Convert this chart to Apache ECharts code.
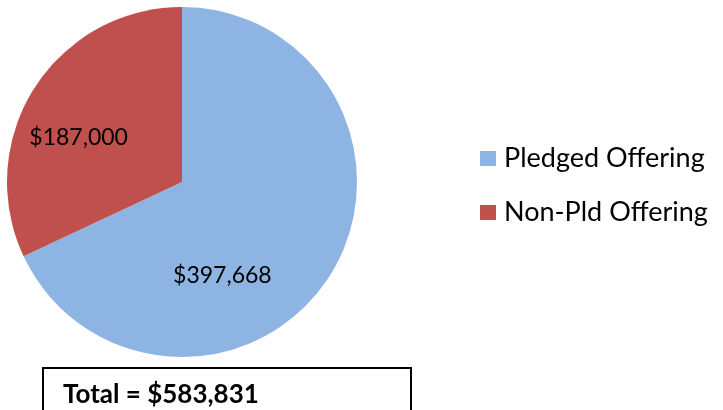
<!DOCTYPE html>
<html>
<head>
<meta charset="utf-8">
<script src="https://cdn.jsdelivr.net/npm/echarts@6/dist/echarts.min.js"></script>
<style>
html,body{margin:0;padding:0;background:#fff;}
#c{width:723px;height:410px;}
</style>
</head>
<body>
<div id="c"></div>
<script>
const categories = ["Pledged Offering", "Non-Pld Offering"];
const values = [397668, 187000];
const colors = ["#8EB4E3", "#C0504D"];
const totalText = "Total = $583,831";
const labelOffsets = [[-36, 45], [-27, 4]];

const fontFamily = "Lato, 'Open Sans', sans-serif";
function fmt(v){ return "$" + v.toString().replace(/\B(?=(\d{3})+(?!\d))/g, ","); }

const chart = echarts.init(document.getElementById('c'));
chart.setOption({
  animation: false,
  backgroundColor: '#fff',
  legend: {
    orient: 'vertical',
    left: 475,
    top: 140,
    itemWidth: 16,
    itemHeight: 15,
    itemGap: 27,
    icon: 'rect',
    data: categories,
    textStyle: { fontSize: 27, color: '#000', fontFamily: fontFamily, padding: [0,0,0,3] }
  },
  title: {
    text: totalText,
    left: 63,
    top: 382,
    padding: 0,
    textStyle: { fontSize: 26, fontWeight: 'bold', color: '#000', fontFamily: fontFamily }
  },
  graphic: [{
    type: 'rect',
    shape: { x: 43, y: 368, width: 368, height: 60 },
    style: { fill: 'none', stroke: '#000', lineWidth: 2 },
    z: 10
  }],
  series: [{
    type: 'pie',
    center: [182, 182],
    radius: 175,
    startAngle: 90,
    clockwise: true,
    silent: true,
    label: {
      show: true,
      position: 'inside',
      formatter: p => fmt(p.value),
      fontSize: 23,
      color: '#000',
      fontFamily: fontFamily
    },
    labelLine: { show: false },
    itemStyle: { borderWidth: 0 },
    data: categories.map((n, i) => ({
      name: n,
      value: values[i],
      itemStyle: { color: colors[i] },
      label: { offset: labelOffsets[i] }
    }))
  }]
});
</script>
</body>
</html>
